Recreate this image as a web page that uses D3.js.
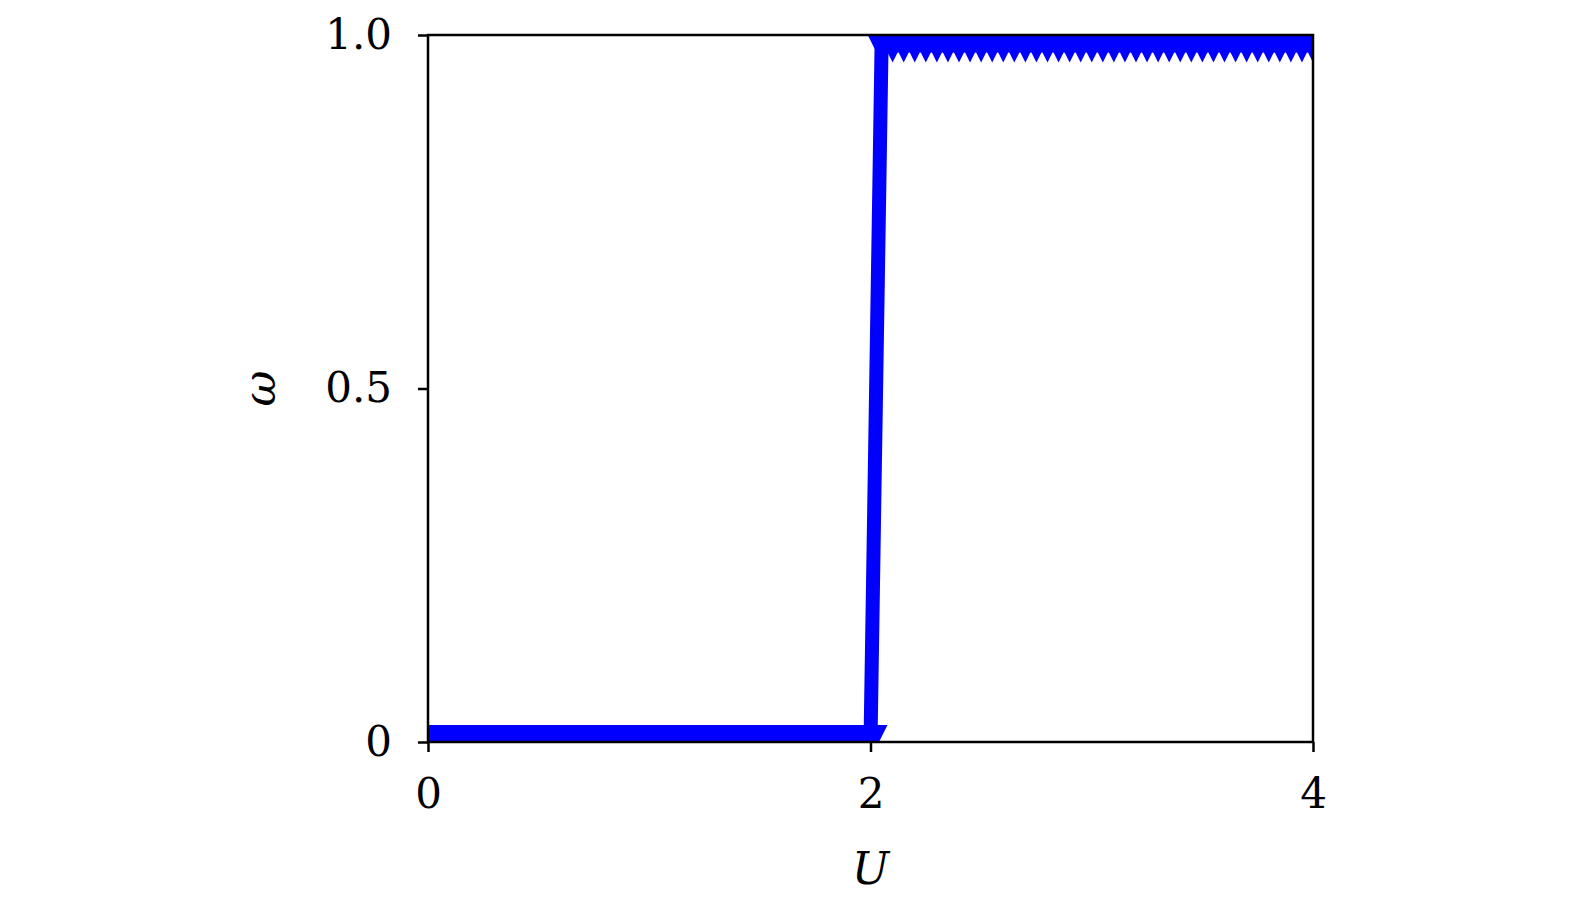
<!DOCTYPE html>
<html>
<head>
<meta charset="utf-8">
<script src="https://cdn.jsdelivr.net/npm/d3@7"></script>
<style>
  body { margin: 0; background: #fff; }
  text { font-family: "DejaVu Serif", "Liberation Serif", serif; fill: #000; }
</style>
</head>
<body>
<div id="chart"></div>
<script>
// data
var uValues = [0, 0.05, 0.1, 0.15, 0.2, 0.25, 0.3, 0.35, 0.4, 0.45,
  0.5, 0.55, 0.6, 0.65, 0.7, 0.75, 0.8, 0.85, 0.9, 0.95,
  1.0, 1.05, 1.1, 1.15, 1.2, 1.25, 1.3, 1.35, 1.4, 1.45,
  1.5, 1.55, 1.6, 1.65, 1.7, 1.75, 1.8, 1.85, 1.9, 1.95,
  2.0, 2.05, 2.1, 2.15, 2.2, 2.25, 2.3, 2.35, 2.4, 2.45,
  2.5, 2.55, 2.6, 2.65, 2.7, 2.75, 2.8, 2.85, 2.9, 2.95,
  3.0, 3.05, 3.1, 3.15, 3.2, 3.25, 3.3, 3.35, 3.4, 3.45,
  3.5, 3.55, 3.6, 3.65, 3.7, 3.75, 3.8, 3.85, 3.9, 3.95, 4.0];
var omegaValues = [0, 0, 0, 0, 0, 0, 0, 0, 0, 0,
  0, 0, 0, 0, 0, 0, 0, 0, 0, 0,
  0, 0, 0, 0, 0, 0, 0, 0, 0, 0,
  0, 0, 0, 0, 0, 0, 0, 0, 0, 0,
  0, 0.985, 0.985, 0.985, 0.985, 0.985, 0.985, 0.985, 0.985, 0.985,
  0.985, 0.985, 0.985, 0.985, 0.985, 0.985, 0.985, 0.985, 0.985, 0.985,
  0.985, 0.985, 0.985, 0.985, 0.985, 0.985, 0.985, 0.985, 0.985, 0.985,
  0.985, 0.985, 0.985, 0.985, 0.985, 0.985, 0.985, 0.985, 0.985, 0.985, 0.985];
var xTicks = [0, 2, 4];
var xTickLabels = ["0", "2", "4"];
var yTicks = [0, 0.5, 1.0];
var yTickLabels = ["0", "0.5", "1.0"];

var svgWidth = 1575;
var svgHeight = 906;

var margin = { top: 35, right: 262, bottom: 164, left: 428 };
var width = svgWidth - margin.left - margin.right;
var height = svgHeight - margin.top - margin.bottom;

var points = uValues.map(function(u, i) { return { u: u, w: omegaValues[i] }; });

var svg = d3.select("#chart")
  .append("svg")
  .attr("width", svgWidth)
  .attr("height", svgHeight);

var chartGroup = svg.append("g")
  .attr("transform", `translate(${margin.left}, ${margin.top})`);

var xLinearScale = d3.scaleLinear().domain([0, 4]).range([0, width]);
var yLinearScale = d3.scaleLinear().domain([0, 1]).range([height, 0]);

// clip to plot box
chartGroup.append("clipPath")
  .attr("id", "plotclip")
  .append("rect")
  .attr("width", width)
  .attr("height", height);

var dataGroup = chartGroup.append("g").attr("clip-path", "url(#plotclip)");

var line = d3.line()
  .x(d => xLinearScale(d.u))
  .y(d => yLinearScale(d.w));

dataGroup.append("path")
  .datum(points)
  .attr("d", line)
  .attr("fill", "none")
  .attr("stroke", "#0000ff")
  .attr("stroke-width", 14)
  .attr("stroke-linejoin", "miter");

// triangle-down markers
var s = 17;
dataGroup.selectAll("path.marker")
  .data(points)
  .enter()
  .append("path")
  .attr("class", "marker")
  .attr("d", `M${-s},${-s}L${s},${-s}L0,${s}Z`)
  .attr("transform", d => `translate(${xLinearScale(d.u)}, ${yLinearScale(d.w)})`)
  .attr("fill", "#0000ff");

// axes
var bottomAxis = d3.axisBottom(xLinearScale)
  .tickValues(xTicks)
  .tickFormat((d, i) => xTickLabels[i])
  .tickSize(10)
  .tickPadding(26);
var leftAxis = d3.axisLeft(yLinearScale)
  .tickValues(yTicks)
  .tickFormat((d, i) => yTickLabels[i])
  .tickSize(10)
  .tickPadding(26);

var xAxis = chartGroup.append("g")
  .attr("transform", `translate(0, ${height})`)
  .call(bottomAxis);
var yAxis = chartGroup.append("g")
  .call(leftAxis);

[xAxis, yAxis].forEach(function(ax) {
  ax.select(".domain").remove();
  ax.selectAll("line").attr("stroke", "#000").attr("stroke-width", 2.5);
  ax.selectAll("text").attr("font-size", "42px").style("font-family", "'DejaVu Serif', serif");
});

// frame
chartGroup.append("rect")
  .attr("width", width)
  .attr("height", height)
  .attr("fill", "none")
  .attr("stroke", "#000")
  .attr("stroke-width", 2.5);

// axis labels
chartGroup.append("text")
  .attr("x", width / 2)
  .attr("y", height + 142)
  .attr("text-anchor", "middle")
  .attr("font-size", "44px")
  .attr("font-style", "italic")
  .text("U");

chartGroup.append("text")
  .attr("transform", `translate(${260 - margin.left}, ${yLinearScale(0.5)}) rotate(-90)`)
  .attr("text-anchor", "middle")
  .attr("dy", "0.35em")
  .attr("font-size", "44px")
  .attr("font-style", "italic")
  .text("ω");
</script>
</body>
</html>
